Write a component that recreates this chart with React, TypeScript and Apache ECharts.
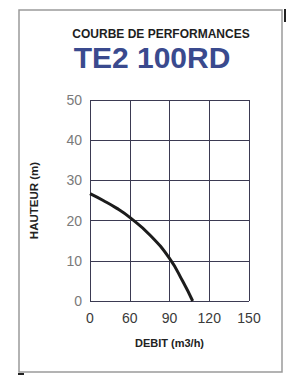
import React, { useEffect, useRef } from "react";
import * as echarts from "echarts";

const TITLE = "COURBE DE PERFORMANCES";
const MODEL = "TE2 100RD";
const X_NAME = "DEBIT (m3/h)";
const Y_NAME = "HAUTEUR (m)";

// x axis tick labels (evenly spaced on the chart although not linear)
const X_TICKS = [0, 60, 90, 120, 150];
const Y_TICKS = [0, 10, 20, 30, 40, 50];

// performance curve (débit m3/h, hauteur m)
const FLOW = [0, 20, 40, 60, 75, 90, 100, 107.5];
const HEAD = [26.7, 25.0, 23.1, 20.8, 16.5, 10.6, 4.9, 0];

// maps a flow value to the axis position (index of tick, piecewise)
function flowToPos(q: number): number {
  for (let i = 0; i < X_TICKS.length - 1; i++) {
    const a = X_TICKS[i];
    const b = X_TICKS[i + 1];
    if (q <= b) return i + (q - a) / (b - a);
  }
  return X_TICKS.length - 1;
}

export default function App() {
  const ref = useRef<HTMLDivElement>(null);
  useEffect(() => {
    if (!ref.current) return;
    const chart = echarts.init(ref.current, null, { renderer: "svg" });
    const font = "'Liberation Sans', Arial, sans-serif";
    const gridColor = "#3b3a52";
    chart.setOption({
      animation: false,
      backgroundColor: "#ffffff",
      grid: { left: 90, top: 100, width: 159, height: 201, containLabel: false },
      xAxis: {
        type: "value",
        min: 0,
        max: X_TICKS.length - 1,
        interval: 1,
        axisLine: { show: false },
        axisTick: { show: false },
        axisLabel: {
          formatter: (v: number) => String(X_TICKS[Math.round(v)]),
          color: "#3a3a3a",
          fontSize: 14,
          fontFamily: font,
          margin: 10,
        },
        splitLine: { show: true, lineStyle: { color: gridColor, width: 1 } },
        name: X_NAME,
        nameLocation: "middle",
        nameGap: 36,
        nameTextStyle: { fontSize: 11, fontWeight: "bold", color: "#222", fontFamily: font },
      },
      yAxis: {
        type: "value",
        min: Y_TICKS[0],
        max: Y_TICKS[Y_TICKS.length - 1],
        interval: 10,
        axisLine: { show: false },
        axisTick: { show: false },
        axisLabel: { color: "#7a7a7a", fontSize: 14, fontFamily: font, margin: 8 },
        splitLine: { show: true, lineStyle: { color: gridColor, width: 1 } },
        name: Y_NAME,
        nameLocation: "middle",
        nameGap: 50,
        nameRotate: 90,
        nameTextStyle: { fontSize: 11.5, fontWeight: "bold", color: "#222", fontFamily: font },
      },
      series: [
        {
          type: "line",
          data: FLOW.map((q, i) => [flowToPos(q), HEAD[i]]),
          smooth: 0.5,
          showSymbol: false,
          lineStyle: { color: "#1c1c1c", width: 3 },
        },
      ],
      graphic: [
        {
          type: "rect",
          shape: { x: 19, y: 10, width: 263, height: 362 },
          style: { fill: "none", stroke: "#9a9a9a", lineWidth: 1.5 },
          silent: true,
        },
        {
          type: "line",
          shape: { x1: 285, y1: 9, x2: 285, y2: 22 },
          style: { stroke: "#222", lineWidth: 2 },
          silent: true,
        },
        {
          type: "line",
          shape: { x1: 18, y1: 374, x2: 24, y2: 374 },
          style: { stroke: "#222", lineWidth: 2 },
          silent: true,
        },
        {
          type: "text",
          x: 161,
          y: 34,
          style: {
            text: TITLE,
            fontSize: 12,
            fontWeight: "bold",
            fill: "#1e1e1e",
            fontFamily: font,
            align: "center",
            verticalAlign: "middle",
          },
        },
        {
          type: "text",
          x: 152,
          y: 57,
          style: {
            text: MODEL,
            fontSize: 30,
            fontWeight: "bold",
            fill: "#3a4a8e",
            fontFamily: font,
            align: "center",
            verticalAlign: "middle",
          },
        },
      ],
    });
    return () => chart.dispose();
  }, []);
  return (
    <div
      ref={ref}
      style={{ position: "fixed", left: 0, top: 0, width: 286, height: 376 }}
    />
  );
}
